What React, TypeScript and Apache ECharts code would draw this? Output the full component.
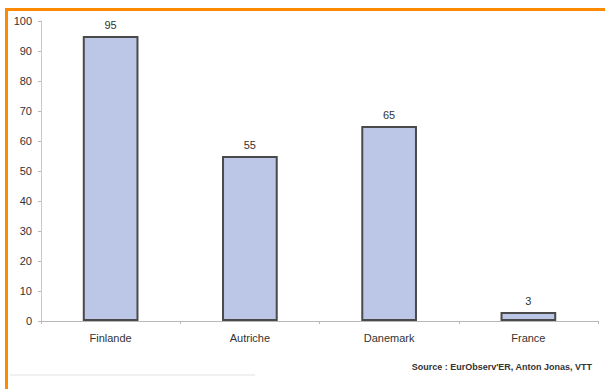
import React, { useEffect, useRef } from "react";
import * as echarts from "echarts";

const categories = ["Finlande", "Autriche", "Danemark", "France"];
const values = [95, 55, 65, 3];
const yTicks = [0, 10, 20, 30, 40, 50, 60, 70, 80, 90, 100];
const sourceText = "Source : EurObserv'ER, Anton Jonas, VTT";

export default function App() {
  const ref = useRef<HTMLDivElement>(null);

  useEffect(() => {
    if (!ref.current) return;
    const chart = echarts.init(ref.current, null, { renderer: "svg" });
    const font = "Arial, 'Liberation Sans', sans-serif";
    chart.setOption({
      animation: false,
      backgroundColor: "#ffffff",
      grid: { left: 41, right: 7, top: 21, bottom: 68, containLabel: false },
      xAxis: {
        type: "category",
        data: categories,
        axisLine: { lineStyle: { color: "#b8b8b8", width: 1 } },
        axisTick: { show: true, length: 3, lineStyle: { color: "#b8b8b8" } },
        axisLabel: { color: "#333", fontSize: 11, fontFamily: font, margin: 11 },
      },
      yAxis: {
        type: "value",
        min: yTicks[0],
        max: yTicks[yTicks.length - 1],
        interval: 10,
        axisLine: { show: true, lineStyle: { color: "#c8c8c8", width: 1 } },
        axisTick: { show: true, length: 3, lineStyle: { color: "#b8b8b8" } },
        splitLine: { show: false },
        axisLabel: { color: "#333", fontSize: 11, fontFamily: font, margin: 9 },
      },
      series: [
        {
          type: "bar",
          data: values,
          barCategoryGap: "60%",
          itemStyle: { color: "#bcc6e6", borderColor: "#4a4a4a", borderWidth: 2 },
          label: {
            show: true,
            position: "top",
            distance: 6,
            color: "#333",
            fontSize: 11,
            fontFamily: font,
          },
        },
      ],
      graphic: [
        { type: "rect", shape: { x: 5, y: 8, width: 600, height: 3 }, style: { fill: "#ff8a00" } },
        { type: "rect", shape: { x: 5, y: 8, width: 3, height: 381 }, style: { fill: "#ff8a00" } },
        {
          type: "line",
          shape: { x1: 10, y1: 375, x2: 255, y2: 375 },
          style: { stroke: "#e2e2e2", lineWidth: 1 },
        },
        {
          type: "text",
          x: 592,
          y: 367,
          style: {
            text: sourceText,
            align: "right",
            verticalAlign: "middle",
            fill: "#333",
            fontSize: 9,
            fontWeight: "bold",
            fontFamily: font,
          },
        },
      ],
    });
    return () => chart.dispose();
  }, []);

  return (
    <div
      ref={ref}
      style={{ position: "fixed", left: 0, top: 0, width: 605, height: 389 }}
    />
  );
}
